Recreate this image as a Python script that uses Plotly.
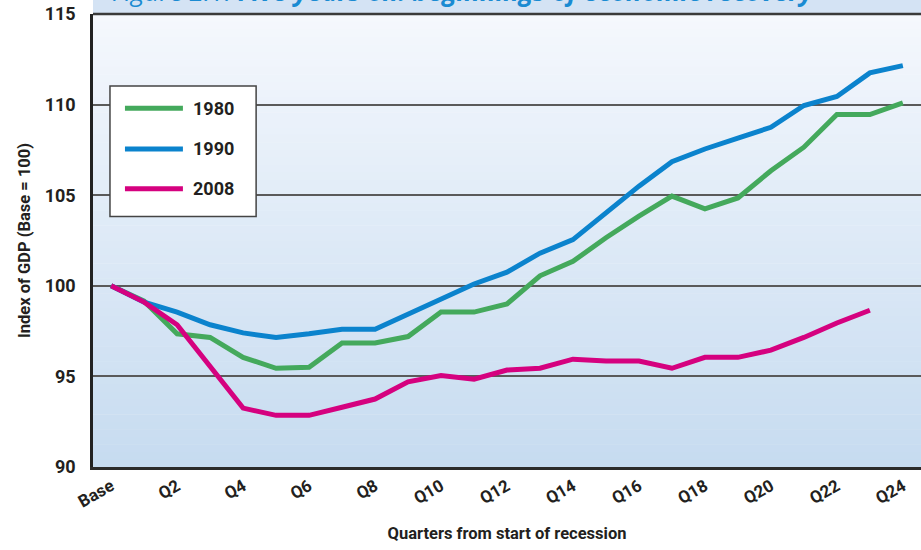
import plotly.graph_objects as go

# ---- data ----
x_pos = list(range(25))
tick_pos = list(range(0, 25, 2))
tick_text = ["Base", "Q2", "Q4", "Q6", "Q8", "Q10", "Q12", "Q14", "Q16", "Q18", "Q20", "Q22", "Q24"]
y_ticks = [90, 95, 100, 105, 110, 115]

series_names = ["1980", "1990", "2008"]
gdp_1980 = [100, 99.15, 97.35, 97.15, 96.05, 95.45, 95.5, 96.85, 96.85, 97.2, 98.55, 98.55, 99.0,
            100.55, 101.35, 102.65, 103.85, 104.95, 104.25, 104.85, 106.35, 107.65, 109.45, 109.45, 110.1]
gdp_1990 = [100, 99.1, 98.55, 97.85, 97.4, 97.15, 97.35, 97.6, 97.6, 98.45, 99.3, 100.1, 100.75,
            101.8, 102.55, 104.05, 105.5, 106.85, 107.55, 108.15, 108.75, 109.95, 110.45, 111.75, 112.15]
gdp_2008 = [100, 99.1, 97.85, 95.6, 93.25, 92.85, 92.85, 93.3, 93.75, 94.7, 95.05, 94.85, 95.35,
            95.45, 95.95, 95.85, 95.85, 95.45, 96.05, 96.05, 96.45, 97.15, 97.95, 98.65]
series_values = [gdp_1980, gdp_1990, gdp_2008]
series_colors = ["#44a95c", "#0b83cd", "#d5017f"]

FONT = "Roboto, Liberation Sans, sans-serif"
TXT = "#231f20"

fig = go.Figure()
for name, vals, col in zip(series_names, series_values, series_colors):
    fig.add_trace(go.Scatter(x=x_pos[:len(vals)], y=vals, mode="lines", name=name,
                             line=dict(color=col, width=5), showlegend=False))

shapes = []
# gradient background
N = 60
top = (245, 248, 253)
bot = (198, 219, 240)
for i in range(N):
    t = (i + 0.5) / N
    c = tuple(round(top[k] + (bot[k] - top[k]) * t) for k in range(3))
    shapes.append(dict(type="rect", xref="paper", yref="paper", x0=0, x1=1,
                       y0=1 - (i + 1) / N - 0.001, y1=1 - i / N,
                       fillcolor="rgb(%d,%d,%d)" % c, line=dict(width=0), layer="below"))
# title band above plot
shapes.append(dict(type="rect", xref="paper", yref="paper", x0=0, x1=1.01, y0=1, y1=1.05,
                   fillcolor="#d4e3f4", line=dict(width=0), layer="below"))
# top border line
shapes.append(dict(type="line", xref="paper", yref="paper", x0=0, x1=1, y0=1, y1=1,
                   line=dict(color="#3a3a3a", width=2.5)))

# manual legend box
lx0, lx1, ly0, ly1 = 0.0205, 0.197, 0.553, 0.841
shapes.append(dict(type="rect", xref="paper", yref="paper", x0=lx0, x1=lx1, y0=ly0, y1=ly1,
                   fillcolor="white", line=dict(color="#444", width=1.5)))
annotations = []
row_y = [0.792, 0.702, 0.614]
for name, col, ry in zip(series_names, series_colors, row_y):
    shapes.append(dict(type="line", xref="paper", yref="paper", x0=0.0386, x1=0.1086, y0=ry, y1=ry,
                       line=dict(color=col, width=5)))
    annotations.append(dict(xref="paper", yref="paper", x=0.118, y=ry, text="<b>%s</b>" % name,
                            showarrow=False, xanchor="left", yanchor="middle",
                            font=dict(family=FONT, size=18, color=TXT)))

# figure title at top (clipped by the page edge, as in the source)
annotations.append(dict(xref="paper", yref="paper", x=0.021, y=1.0065, xanchor="left", yanchor="bottom",
                        showarrow=False,
                        text="<i>Figure 2.1: <b>Five years on: beginnings of economic recovery</b></i>",
                        font=dict(family="Open Sans, DejaVu Sans, sans-serif", size=26, color="#1a8bd2")))

fig.update_layout(
    width=921, height=550,
    margin=dict(l=93, r=0, t=14, b=83, autoexpand=False),
    paper_bgcolor="white",
    plot_bgcolor="rgba(0,0,0,0)",
    shapes=shapes,
    annotations=annotations,
    showlegend=False,
    font=dict(family=FONT, color=TXT),
)
fig.update_xaxes(range=[-0.55, 24.55], tickvals=tick_pos, ticktext=["<b>%s</b>" % t for t in tick_text],
                 tickangle=-30, showgrid=False, zeroline=False, automargin=False,
                 showline=True, linecolor="#2b2b2b", linewidth=2.5, ticks="",
                 tickfont=dict(family=FONT, size=17, color=TXT),
                 title=dict(text="<b>Quarters from start of recession</b>",
                            font=dict(family=FONT, size=16.5, color=TXT), standoff=18))
fig.update_yaxes(range=[90, 115], tickvals=y_ticks, ticktext=["<b>%d</b>" % v for v in y_ticks],
                 showgrid=True, gridcolor="#5a5a5a", gridwidth=1.5, zeroline=False, automargin=False,
                 showline=True, linecolor="#222", linewidth=2.5, ticks="",
                 ticklabelstandoff=11,
                 tickfont=dict(family=FONT, size=18, color=TXT),
                 title=dict(text="<b>Index of GDP (Base = 100)</b>",
                            font=dict(family=FONT, size=16.5, color=TXT), standoff=10))

fig.write_html("out.html", config={"displayModeBar": False},
               post_script="document.body.style.margin='0px';")
